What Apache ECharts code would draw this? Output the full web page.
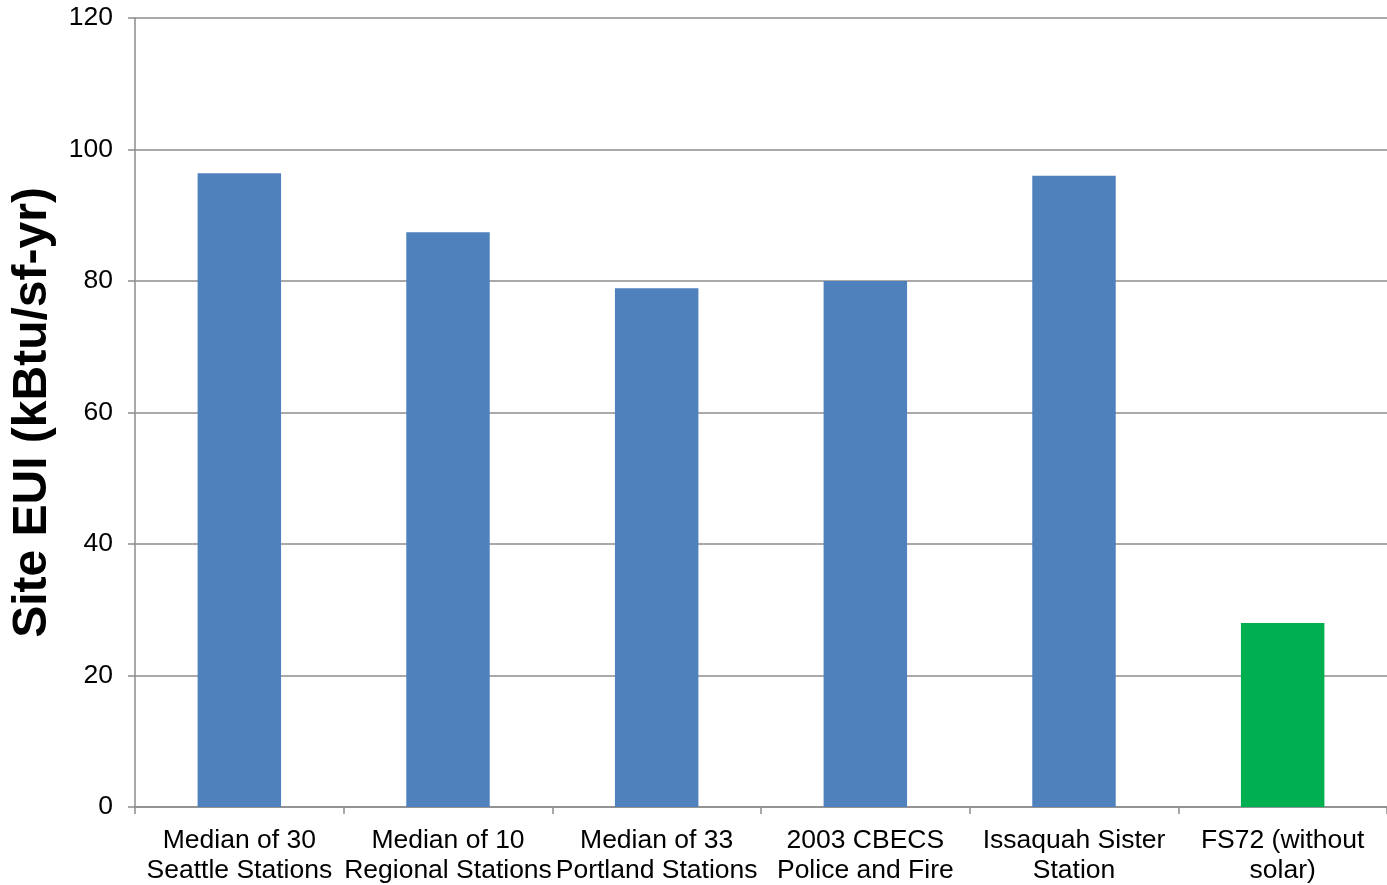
<!DOCTYPE html>
<html>
<head>
<meta charset="utf-8">
<script src="https://cdn.jsdelivr.net/npm/echarts@6/dist/echarts.min.js"></script>
<style>
  html, body { margin: 0; padding: 0; background: #fff; }
  #chart { width: 1387px; height: 885px; }
</style>
</head>
<body>
<div id="chart"></div>
<script>
// Site energy use intensity by building group
const categories = [
  'Median of 30\nSeattle Stations',
  'Median of 10\nRegional Stations',
  'Median of 33\nPortland Stations',
  '2003 CBECS\nPolice and Fire',
  'Issaquah Sister\nStation',
  'FS72 (without\nsolar)'
];
const siteEUI = [96.4, 87.4, 78.9, 80.0, 96.0, 28.0];
const barColors = ['#4F81BD', '#4F81BD', '#4F81BD', '#4F81BD', '#4F81BD', '#00B050'];
const yTicks = [0, 20, 40, 60, 80, 100, 120];

const chart = echarts.init(document.getElementById('chart'), null, { renderer: 'canvas' });
const font = '"Liberation Sans", Arial, sans-serif';
const gridGrey = '#8c8c8c';

chart.setOption({
  animation: false,
  grid: { left: 135, right: 0, top: 18, bottom: 78, containLabel: false, outerBoundsMode: 'none' },
  xAxis: {
    type: 'category',
    data: categories,
    axisLine: { show: true, lineStyle: { color: gridGrey, width: 1.5 } },
    axisTick: { show: true, length: 7, lineStyle: { color: gridGrey, width: 1.5 } },
    axisLabel: {
      interval: 0,
      margin: 19,
      color: '#000',
      fontFamily: font,
      fontSize: 26.5,
      lineHeight: 30,
      hideOverlap: false
    }
  },
  yAxis: {
    type: 'value',
    min: yTicks[0],
    max: yTicks[yTicks.length - 1],
    interval: 20,
    name: 'Site EUI (kBtu/sf-yr)',
    nameLocation: 'middle',
    nameGap: 78,
    nameTextStyle: { color: '#000', fontFamily: font, fontSize: 48, fontWeight: 'bold' },
    axisLine: { show: true, lineStyle: { color: gridGrey, width: 1.5 } },
    axisTick: { show: true, length: 7, lineStyle: { color: gridGrey, width: 1.5 } },
    axisLabel: { margin: 22, color: '#000', fontFamily: font, fontSize: 26.5 },
    splitLine: { show: true, lineStyle: { color: gridGrey, width: 1.5 } }
  },
  series: [{
    type: 'bar',
    barWidth: '40%',
    data: siteEUI.map((v, i) => ({ value: v, itemStyle: { color: barColors[i] } }))
  }]
});
</script>
</body>
</html>
